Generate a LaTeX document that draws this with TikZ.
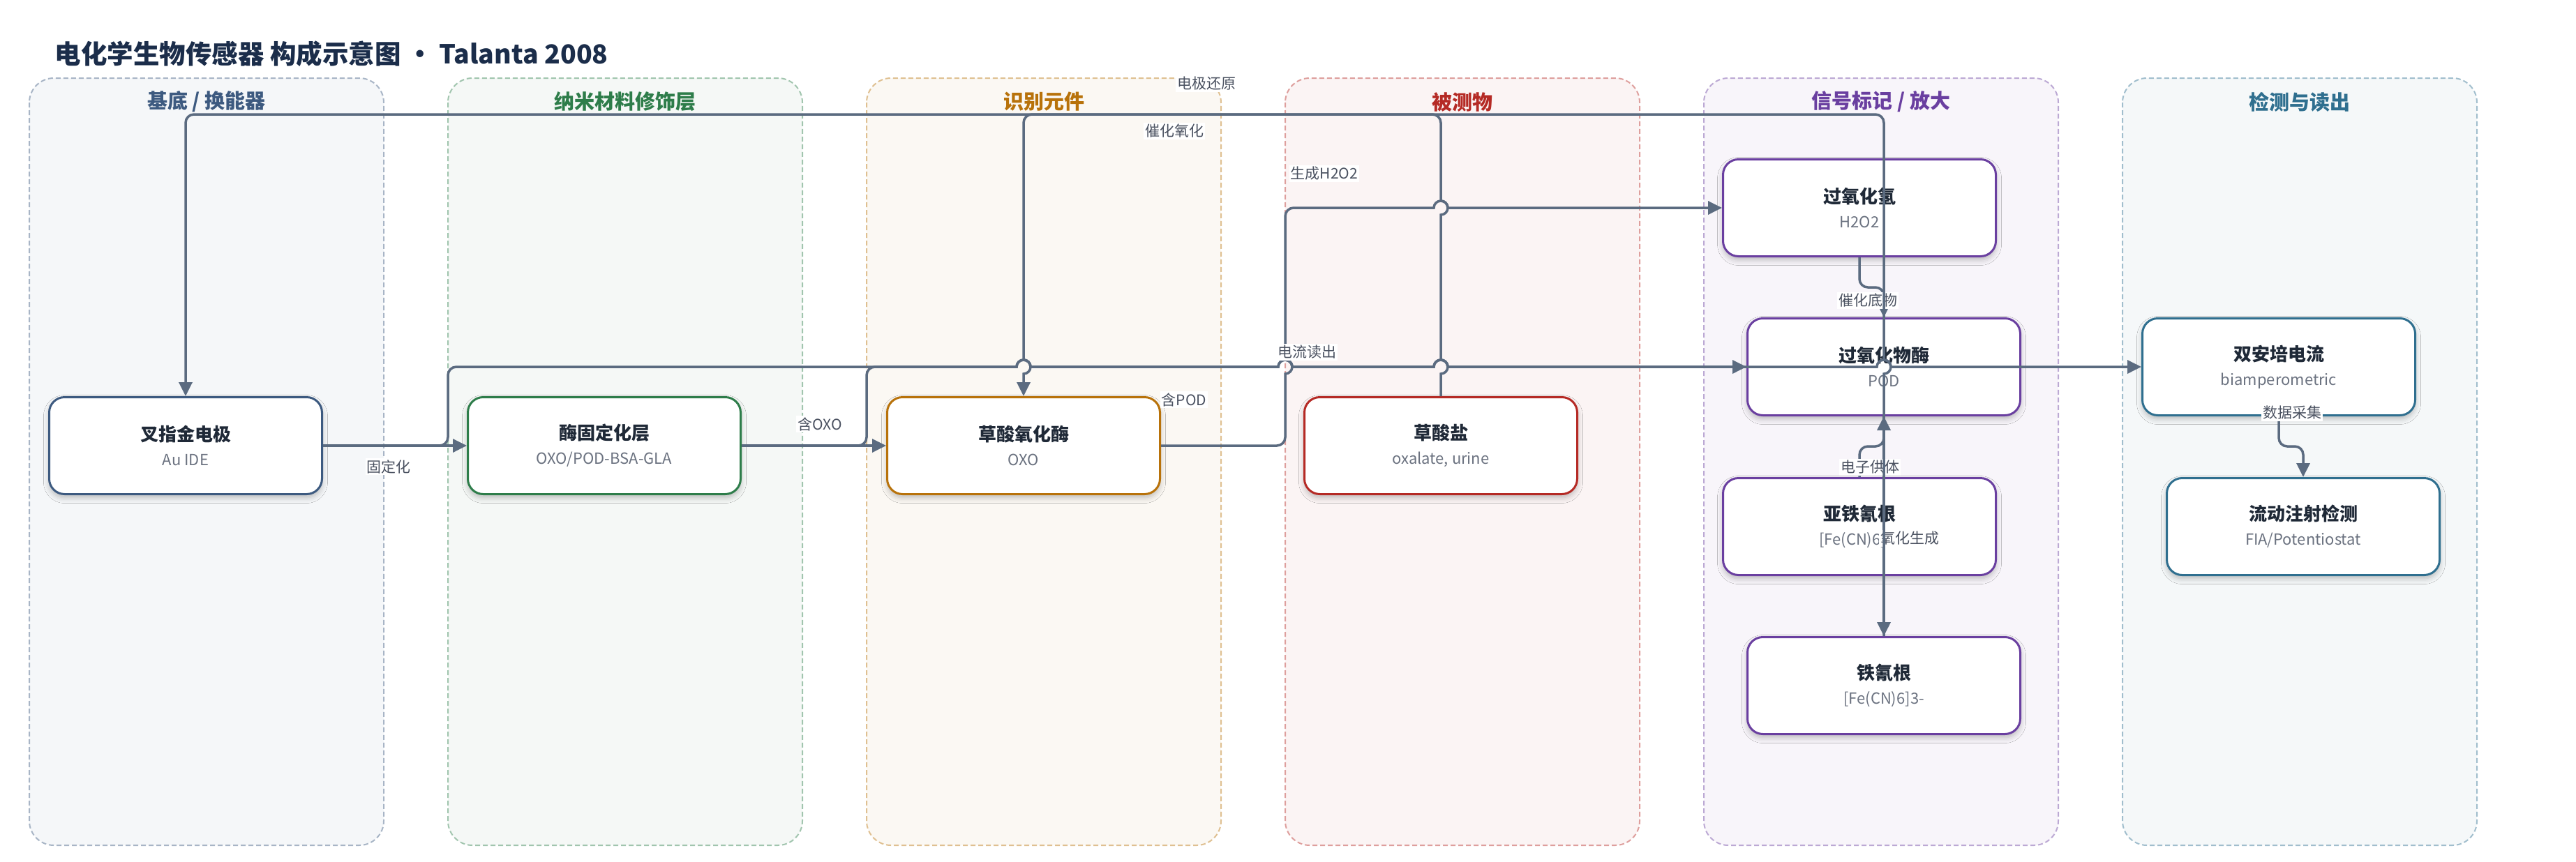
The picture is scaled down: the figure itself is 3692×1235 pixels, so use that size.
\documentclass[tikz,border=0pt]{standalone}
\usepackage{fontspec}
\setmainfont{Noto Sans CJK SC}
\usepackage{xcolor}
\usepackage{tikz}
\usetikzlibrary{arrows.meta}
\usetikzlibrary{shadows.blur}

\definecolor{inkline}{HTML}{5B6B80}
\definecolor{titleink}{HTML}{1B2D4A}
\definecolor{nameink}{HTML}{1F2937}
\definecolor{subink}{HTML}{6B7280}
\definecolor{labelink}{HTML}{4A5160}
\definecolor{basecol}{HTML}{3D5A80}
\definecolor{nanocol}{HTML}{2E7D4A}
\definecolor{recogcol}{HTML}{B8720A}
\definecolor{analytecol}{HTML}{B52A25}
\definecolor{signalcol}{HTML}{6A3FA0}
\definecolor{readcol}{HTML}{2F6F8F}

\newcommand{\comptext}[2]{{\fontsize{26}{35}\selectfont\bfseries\color{nameink}#1}\\{\color{subink}#2}}

\tikzset{
lane/.style = { draw = #1!45, fill = #1!5, line width = 2pt, dash pattern = on 7pt off 4pt, rounded corners = 35pt },
lane title/.style = { text = #1, font = \fontsize{29}{34}\selectfont\bfseries },
comp/.style = { rectangle, draw = #1, fill = white, line width = 3pt, minimum width = 391pt, minimum height = 139pt, rounded corners = 22pt, align = center, font = \fontsize{22}{35}\selectfont, blur shadow = {shadow xshift = 0pt, shadow yshift = -5pt, shadow blur radius = 8pt, shadow opacity = 25} },
flow/.style = { draw = inkline, line width = 3.5pt, rounded corners = 12pt, -{Triangle[length = 20pt, width = 19pt]} },
lbl/.style = { fill = white, text = labelink, inner sep = 2pt, font = \fontsize{21}{25}\selectfont },
}

\begin{document}
\begin{tikzpicture}[x = 1pt, y = 1pt]
      \useasboundingbox (0, 0) rectangle (3692, -1235);
      \node[anchor = west, text = titleink, font = \fontsize{37.5}{44}\selectfont\bfseries] (title) at (75, -77) {电化学生物传感器 构成示意图 · Talanta 2008};

      % lanes
      \draw[lane = basecol]    (42, -112) rectangle (550, -1212);
      \draw[lane = nanocol]    (642, -112) rectangle (1150, -1212);
      \draw[lane = recogcol]   (1242, -112) rectangle (1750, -1212);
      \draw[lane = analytecol] (1842, -112) rectangle (2350, -1212);
      \draw[lane = signalcol]  (2442, -112) rectangle (2950, -1212);
      \draw[lane = readcol]    (3042, -112) rectangle (3550, -1212);
      \node[lane title = basecol]    (tbase) at (296, -146) {基底 / 换能器};
      \node[lane title = nanocol]    (tnano) at (896, -146) {纳米材料修饰层};
      \node[lane title = recogcol]   (trecog) at (1496, -146) {识别元件};
      \node[lane title = analytecol] (tanalyte) at (2096, -146) {被测物};
      \node[lane title = signalcol]  (tsignal) at (2696, -146) {信号标记 / 放大};
      \node[lane title = readcol]    (tread) at (3296, -146) {检测与读出};

      % components
      \node[comp = basecol]    (ide) at (266, -639) {\comptext{叉指金电极}{Au IDE}};
      \node[comp = nanocol]    (immob) at (866, -639) {\comptext{酶固定化层}{OXO/POD-BSA-GLA}};
      \node[comp = recogcol]   (oxo) at (1467, -639) {\comptext{草酸氧化酶}{OXO}};
      \node[comp = analytecol] (oxalate) at (2065, -639) {\comptext{草酸盐}{oxalate, urine}};
      \node[comp = signalcol]  (hperox) at (2665, -298) {\comptext{过氧化氢}{H2O2}};
      \node[comp = signalcol]  (pod) at (2700, -526) {\comptext{过氧化物酶}{POD}};
      \node[comp = signalcol]  (ferro) at (2665, -755) {\comptext{亚铁氰根}{[Fe(CN)6]4-}};
      \node[comp = signalcol]  (ferri) at (2700, -983) {\comptext{铁氰根}{[Fe(CN)6]3-}};
      \node[comp = readcol]    (biamp) at (3266, -526) {\comptext{双安培电流}{biamperometric}};
      \node[comp = readcol]    (fia) at (3301, -755) {\comptext{流动注射检测}{FIA/Potentiostat}};

      % connectors
      \draw[flow] (ide.east) -- (immob.west);
      \draw[flow] (immob.east) -- (oxo.west);
      \draw[flow] (ide.east) -- (642, -639) -- (642, -526) [sharp corners] -- (1457, -526) arc[start angle = 180, end angle = 0, radius = 10] -- (1832, -526) arc[start angle = 180, end angle = 0, radius = 10] -- (2055, -526) arc[start angle = 180, end angle = 0, radius = 10] -- (2690, -526) arc[start angle = 180, end angle = 0, radius = 10] -- (biamp.west);
      \draw[flow] (immob.east) -- (1242, -639) -- (1242, -526) [sharp corners] -- (1457, -526) arc[start angle = 180, end angle = 0, radius = 10] -- (1832, -526) arc[start angle = 180, end angle = 0, radius = 10] -- (2055, -526) arc[start angle = 180, end angle = 0, radius = 10] -- (pod.west);
      \draw[flow] (oxo.east) -- (1842, -639) [sharp corners] -- (1842, -536) arc[start angle = -90, end angle = 90, radius = 10] [rounded corners = 12pt] -- (1842, -298) [sharp corners] -- (2055, -298) arc[start angle = 180, end angle = 0, radius = 10] -- (hperox.west);
      \draw[flow] (oxalate.north) [sharp corners] -- (2065, -536) arc[start angle = -90, end angle = 90, radius = 10] -- (2065, -308) arc[start angle = -90, end angle = 90, radius = 10] [rounded corners = 12pt] -- (2065, -164) -- (1467, -164) [sharp corners] -- (1467, -516) arc[start angle = 90, end angle = -90, radius = 10] -- (oxo.north);
      \draw[flow] (hperox.south) -- (2665, -412) -- (2700, -412) -- (pod.north);
      \draw[flow] (ferro.north) -- (2665, -640) -- (2700, -640) -- (pod.south);
      \draw[flow] (pod.south) -- (ferri.north);
      \draw[flow] (biamp.south) -- (3266, -640) -- (3301, -640) -- (fia.north);

      % labels
      \node[lbl] (lfix) at (557, -669) {固定化};
      \node[lbl] (loxo) at (1175, -608) {含OXO};
      \node[lbl] (lread) at (1873, -505) {电流读出};
      \node[lbl] (lpod) at (1697, -573) {含POD};
      \node[lbl] (lhyd) at (1898, -249) {生成H2O2};
      \node[lbl] (lcat) at (1683, -188) {催化氧化};
      \node[lbl] (lsub) at (2677, -431) {催化底物};
      \node[lbl] (ldonor) at (2680, -670) {电子供体};
      \node[lbl] (lox) at (2737, -772) {氧化生成};
      \node[lbl] (lacq) at (3285, -592) {数据采集};

      \draw[flow] (ferri.north) [sharp corners] -- (2700, -536) arc[start angle = -90, end angle = 90, radius = 10] [rounded corners = 12pt] -- (2700, -164) -- (266, -164) -- (ide.north);
      \node[lbl] (lred) at (1729, -120) {电极还原};
\end{tikzpicture}
\end{document}
